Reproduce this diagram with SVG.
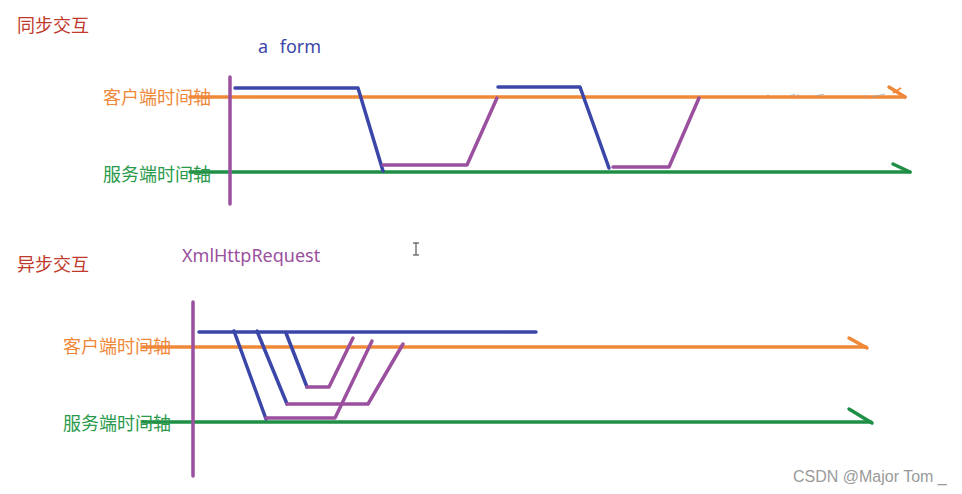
<svg xmlns="http://www.w3.org/2000/svg" width="962" height="494" viewBox="0 0 962 494">
<style>
.cjk{font-family:"Noto Sans CJK SC","Noto Sans",sans-serif;font-size:18px}
.lat{font-family:"Noto Sans","Open Sans",sans-serif;font-size:18px}
.title{fill:#c0392b}
.lo{fill:#f0883a}
.lg{fill:#2a9a4a}
.o{stroke:#f0883a;stroke-width:3.5;fill:none;stroke-linecap:round}
.g{stroke:#1f8f45;stroke-width:3.5;fill:none;stroke-linecap:round}
.b{stroke:#3b47a8;stroke-width:3.5;fill:none;stroke-linecap:round;stroke-linejoin:round}
.p{stroke:#9a509e;stroke-width:3.5;fill:none;stroke-linecap:round;stroke-linejoin:round}
</style>
<rect width="962" height="494" fill="#ffffff"/>

<g id="sync">
  <text class="cjk title" x="17" y="32">同步交互</text>
  <text class="lat" x="258" y="53" fill="#3b47a8" word-spacing="7">a form</text>
  <line class="o" x1="190" y1="97" x2="905" y2="97"/>
  <polyline class="o" points="889,87 905,97" stroke-width="3"/>
  <line x1="893" y1="93" x2="901" y2="88" stroke="#f0883a" stroke-width="2"/>
  <g stroke="#a0a0a0" stroke-width="1" opacity="0.7">
    <line x1="768" y1="94" x2="768" y2="97"/>
    <line x1="790" y1="96" x2="795" y2="94"/>
    <line x1="798" y1="94" x2="798" y2="97"/>
    <line x1="815" y1="96" x2="824" y2="94"/>
    <line x1="865" y1="95" x2="865" y2="97"/>
    <line x1="872" y1="97" x2="885" y2="94"/>
  </g>
  <line class="g" x1="190" y1="172" x2="910" y2="172"/>
  <polyline class="g" points="893,164 910,172" stroke-width="3"/>
  <line class="p" x1="230" y1="77" x2="230" y2="204"/>
  <text class="cjk lo" x="103" y="104">客户端时间轴</text>
  <text class="cjk lg" x="103" y="181">服务端时间轴</text>
  <polyline class="b" points="235,88 358,88 383,171"/>
  <polyline class="p" points="383,165 467,165 497,98"/>
  <polyline class="b" points="498,87 580,87 609,168"/>
  <polyline class="p" points="613,167 669,167 699,98"/>
</g>

<g id="cursor" stroke="#555" stroke-width="1.2" fill="none">
  <line x1="416" y1="243" x2="416" y2="255"/>
  <line x1="413" y1="243" x2="419" y2="243"/>
  <line x1="413" y1="255" x2="419" y2="255"/>
</g>

<g id="async">
  <text class="cjk title" x="17" y="271">异步交互</text>
  <text class="lat" x="182" y="262" fill="#9a509e">XmlHttpRequest</text>
  <line class="b" x1="199" y1="332" x2="536" y2="332"/>
  <line class="o" x1="143" y1="347" x2="866" y2="347"/>
  <polyline class="o" points="849,338 867,348" stroke-width="3"/>
  <line class="g" x1="143" y1="422" x2="871" y2="422"/>
  <polyline class="g" points="849,409 872,423" stroke-width="3"/>
  <line class="p" x1="193" y1="302" x2="193" y2="476"/>
  <text class="cjk lo" x="63" y="353">客户端时间轴</text>
  <text class="cjk lg" x="63" y="430">服务端时间轴</text>
  <polyline class="b" points="234,331 266,419"/>
  <polyline class="p" points="266,418 335,418 372,341"/>
  <polyline class="b" points="257,331 287,404"/>
  <polyline class="p" points="287,404 368,404 403,344"/>
  <polyline class="b" points="286,333 307,387"/>
  <polyline class="p" points="307,387 329,387 353,338"/>
</g>

<text x="793" y="482" font-family="Liberation Sans, Arial, sans-serif" font-size="16" fill="#9a9a9a">CSDN @Major Tom _</text>
</svg>
